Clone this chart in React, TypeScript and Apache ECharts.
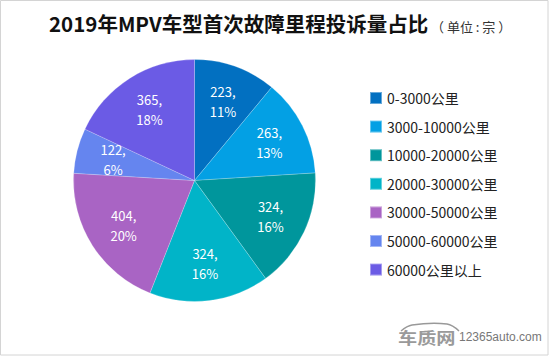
import React, { useEffect, useRef } from "react";
import * as echarts from "echarts";

const categories = [
  "0-3000公里",
  "3000-10000公里",
  "10000-20000公里",
  "20000-30000公里",
  "30000-50000公里",
  "50000-60000公里",
  "60000公里以上",
];
const values = [223, 263, 324, 324, 404, 122, 365];
const percents = ["11%", "13%", "16%", "16%", "20%", "6%", "18%"];
const colors = ["#0270c1", "#03a0e4", "#00969c", "#01b4c8", "#a964c4", "#6585ef", "#6b5be5"];
const titleText = "2019年MPV车型首次故障里程投诉量占比";
const unitText = "（ 单位 : 宗 ）";

export default function App() {
  const ref = useRef<HTMLDivElement>(null);
  useEffect(() => {
    if (!ref.current) return;
    const chart = echarts.init(ref.current, null, { renderer: "svg" });
    const data = categories.map((c, i) => ({ name: c, value: values[i], itemStyle: { color: colors[i] } }));
    const font = '"Noto Sans CJK SC", "Noto Sans", sans-serif';
    chart.setOption({
      animation: false,
      backgroundColor: "#ffffff",
      title: [
        {
          text: titleText,
          left: 44,
          top: 8,
          textStyle: { fontSize: 20.5, fontWeight: "bold", color: "#111", fontFamily: font },
        },
        {
          text: unitText,
          left: 426,
          top: 15,
          textStyle: { fontSize: 13, fontWeight: "normal", color: "#333", fontFamily: font },
        },
      ],
      legend: {
        orient: "vertical",
        left: 364,
        top: 86,
        icon: "rect",
        itemWidth: 12,
        itemHeight: 12,
        itemGap: 14.6,
        data: categories,
        textStyle: { fontSize: 14, color: "#222", fontFamily: font },
        selectedMode: false,
      },
      series: [
        {
          type: "pie",
          center: [194.5, 180.5],
          radius: [0, 121],
          startAngle: 90,
          clockwise: true,
          label: { show: false },
          labelLine: { show: false },
          itemStyle: { borderColor: "rgba(255,255,255,0.4)", borderWidth: 0.5 },
          data,
          silent: true,
        },
        {
          type: "pie",
          center: [194.5, 180.5],
          radius: [41, 121],
          startAngle: 90,
          clockwise: true,
          silent: true,
          legendHoverLink: false,
          itemStyle: { color: "rgba(0,0,0,0)" },
          label: {
            show: true,
            position: "inside",
            color: "#fff",
            fontSize: 13,
            lineHeight: 20,
            fontFamily: font,
            formatter: (p: any) => `${p.value},\n${percents[p.dataIndex]}`,
          },
          labelLine: { show: false },
          data: categories.map((c, i) => ({ name: c, value: values[i] })),
        },
      ],
      graphic: [
        {
          type: "rect",
          shape: { x: 0.5, y: 0.5, width: 547.5, height: 354.5 },
          style: { fill: "none", stroke: "#d4d4d4", lineWidth: 1 },
          silent: true,
        },
        {
          type: "polyline",
          shape: { points: [[401, 331], [412, 325], [447, 324], [459, 331]], smooth: 0.4 },
          style: { stroke: "#999", lineWidth: 1.5, fill: "none" },
          silent: true,
        },
        {
          type: "text",
          x: 398,
          y: 329,
          scaleX: 1.2,
          style: { text: "车质网", fontSize: 16, fontWeight: "bold", fill: "#9a9a9a", fontFamily: font },
          silent: true,
        },
        {
          type: "text",
          x: 459,
          y: 331,
          style: { text: "12365auto.com", fontSize: 12, fill: "#777", fontFamily: '"Liberation Sans", Arial, sans-serif' },
          silent: true,
        },
      ],
    });
    return () => chart.dispose();
  }, []);
  return <div ref={ref} style={{ position: "fixed", left: 0, top: 0, width: 550, height: 356 }} />;
}
